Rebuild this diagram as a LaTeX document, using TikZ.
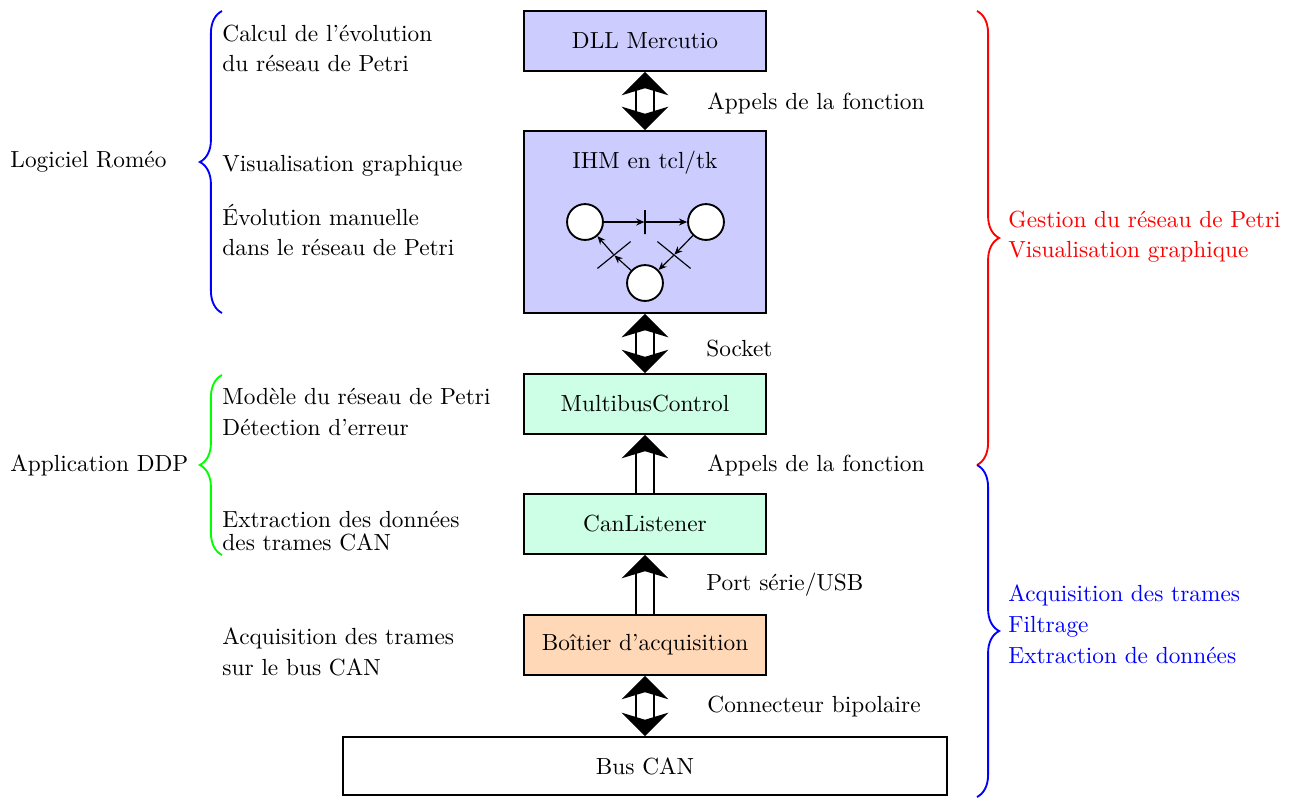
\documentclass[tikz,border=0pt]{standalone}
\usepackage{fontspec}
\usetikzlibrary{arrows.meta,decorations.pathreplacing}
\definecolor{boxblue}{RGB}{204,204,255}
\definecolor{boxgreen}{RGB}{204,255,230}
\definecolor{boxorange}{RGB}{255,217,183}
\begin{document}
\begin{tikzpicture}[x=0.429pt,y=-0.429pt,
  box/.style={draw, line width=0.8pt, minimum width=103.8pt, minimum height=25.7pt, inner sep=0pt},
  txt/.style={inner sep=0pt, anchor=west, align=left},
  bigarrow/.style={draw=black, double=white, double distance=6.6pt, line width=1.1pt},
  dblarrow/.style={bigarrow, {Stealth[length=10pt,width=20pt,inset=3pt]}-{Stealth[length=10pt,width=20pt,inset=3pt]}},
  sglarrow/.style={bigarrow, -{Stealth[length=10pt,width=20pt,inset=3pt]}},
  brc/.style={decorate, decoration={brace, amplitude=9.5pt}, line width=0.8pt},
  place/.style={circle, draw, fill=white, line width=0.8pt, minimum size=15.4pt, inner sep=0pt},
  trans/.style={draw, line width=0.5pt, minimum width=0pt, inner sep=0pt},
  parc/.style={line width=0.5pt, -{Stealth[length=3.5pt,width=3pt]}}
]
\useasboundingbox (0,0) rectangle (1289,797);

% boxes
\node[box, fill=boxblue] (dll) at (645,41) {DLL Mercutio};
\node[box, fill=boxblue, minimum height=78.1pt] (ihm) at (645,222) {};
\node[inner sep=0pt] (ihmtitle) at (645,163) {IHM en tcl/tk};
\node[box, fill=boxgreen] (mbc) at (645,404) {MultibusControl};
\node[box, fill=boxgreen] (canl) at (645,524) {CanListener};
\node[box, fill=boxorange] (boit) at (645,645) {Boîtier d'acquisition};
\node[box, minimum width=259.1pt, minimum height=24.9pt] (bus) at (645,766) {Bus CAN};

% Petri net
\node[place] (p1) at (585,222) {};
\node[place] (p2) at (706,222) {};
\node[place] (p3) at (645,283) {};
\node[trans, minimum height=10.3pt] (t1) at (645,222) {};
\node[trans, minimum height=18.3pt, rotate=51] (t2) at (674,255) {};
\node[trans, minimum height=18.3pt, rotate=-51] (t3) at (614,255) {};
\draw[parc] (p1) -- (t1);
\draw[parc] (t1) -- (p2);
\draw[parc] (p2) -- (t2);
\draw[parc] (t2) -- (p3);
\draw[parc] (p3) -- (t3);
\draw[parc] (t3) -- (p1);

% connectors
\draw[dblarrow] (dll.south) -- (ihm.north);
\draw[dblarrow] (ihm.south) -- (mbc.north);
\draw[sglarrow] (canl.north) -- (mbc.south);
\draw[sglarrow] (boit.north) -- (canl.south);
\draw[dblarrow] (boit.south) -- (bus.north);

% connector labels
\node[txt] (l1) at (707,103) {Appels de la fonction};
\node[txt] (l2) at (706,349) {Socket};
\node[txt] (l3) at (707,465) {Appels de la fonction};
\node[txt] (l4) at (706,585) {Port série/USB};
\node[txt] (l5) at (707,707) {Connecteur bipolaire};

% left descriptions
\node[txt] (d1) at (222,48) {Calcul de l'évolution\\[0.9pt]du réseau de Petri};
\node[txt] (d2) at (222,166) {Visualisation graphique};
\node[txt] (d3) at (222,230) {Évolution manuelle\\[0.9pt]dans le réseau de Petri};
\node[txt] (d4) at (222,412) {Modèle du réseau de Petri\\[0.9pt]Détection d'erreur};
\node[txt] (d5) at (222,531) {Extraction des données\\[-2.1pt]des trames CAN};
\node[txt] (d6) at (222,652) {Acquisition des trames\\[1.3pt]sur le bus CAN};

% left braces
\coordinate (b1s) at (222,313);
\coordinate (b1e) at (222,11);
\coordinate (b2s) at (222,555);
\coordinate (b2e) at (222,375);
\draw[brc, blue] (b1s) -- (b1e);
\draw[brc, green] (b2s) -- (b2e);
\node[txt] (g1) at (10,162) {Logiciel Roméo};
\node[txt] (g2) at (10,465) {Application DDP};

% right braces
\coordinate (r1s) at (977,11);
\coordinate (r1e) at (977,465);
\coordinate (r2s) at (977,465);
\coordinate (r2e) at (977,797);
\draw[brc, red] (r1s) -- (r1e);
\draw[brc, blue] (r2s) -- (r2e);
\node[txt, text=red] (rt1) at (1008,237) {Gestion du réseau de Petri\\[0.9pt]Visualisation graphique};
\node[txt, text=blue] (rt2) at (1008,624) {Acquisition des trames\\[1.3pt]Filtrage\\[1.3pt]Extraction de données};
\end{tikzpicture}
\end{document}
